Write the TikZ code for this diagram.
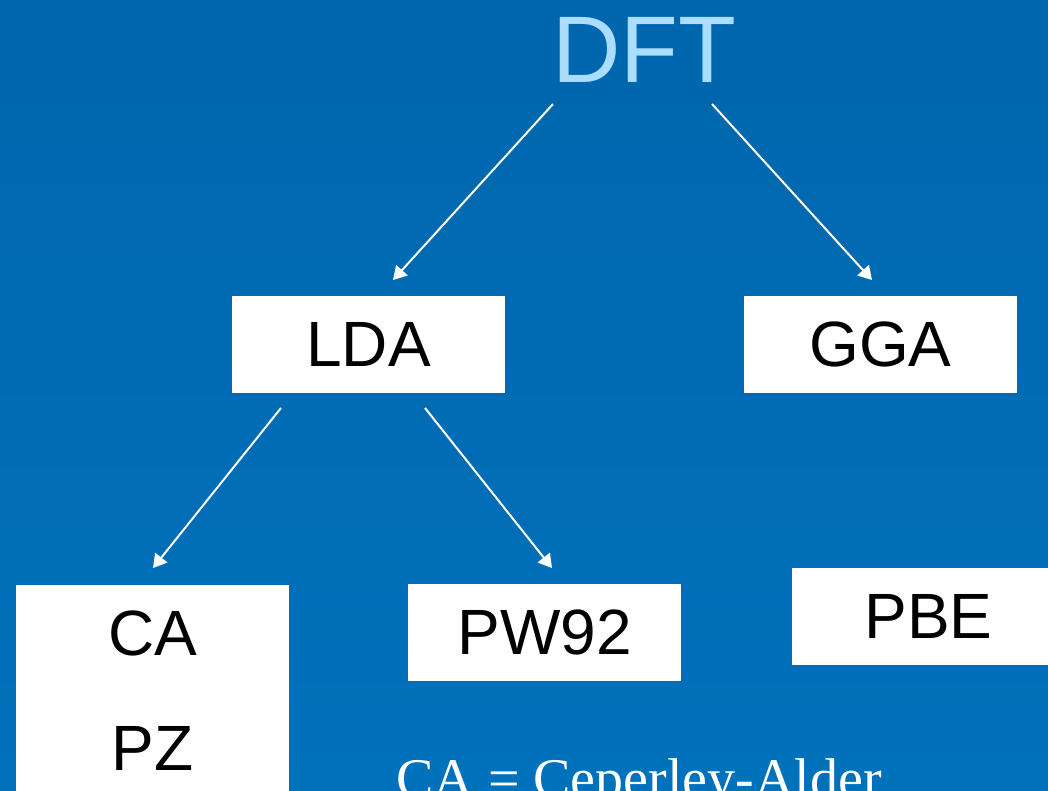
\documentclass[tikz,border=0pt]{standalone}
\usepackage{fontspec}
\setmainfont{Liberation Sans}
\newfontfamily\serifface{Liberation Serif}
\usetikzlibrary{arrows.meta}
\definecolor{bgtop}{RGB}{0,102,173}
\definecolor{bgbot}{RGB}{0,113,187}
\definecolor{dftblue}{RGB}{170,221,255}
\tikzset{
  whitebox/.style={fill=white, draw=none, minimum width=204.75pt, minimum height=72.75pt, inner sep=0pt, font=\fontsize{48}{56}\selectfont, text=black},
  boxtext/.style={inner sep=0pt, font=\fontsize{48}{56}\selectfont, text=black},
  conn/.style={draw=white, line width=1.5pt, -{Triangle[length=10pt, width=11.5pt]}}
}
\begin{document}
\begin{tikzpicture}[x=0.75pt, y=-0.75pt]
\useasboundingbox (0,0) rectangle (1048,790);
\clip (0,0) rectangle (1048,790);
\shade[top color=bgtop, bottom color=bgbot] (0,0) rectangle (1048,790);

\node[inner sep=0pt, text=dftblue, font=\fontsize{71}{80}\selectfont] (dft) at (644,50) {DFT};

\node[whitebox] (lda) at (368.5,344.5) {LDA};
\node[whitebox] (gga) at (880.5,344.5) {GGA};
\node[whitebox, minimum height=183.75pt] (capz) at (152.5,707.5) {};
\node[boxtext] (ca) at (152.5,633.5) {CA};
\node[boxtext] (pz) at (152.5,748.5) {PZ};
\node[whitebox] (pw) at (544.5,632.5) {PW92};
\node[whitebox] (pbe) at (928.5,616.5) {PBE};

\node[anchor=base west, inner sep=0pt, text=white, font=\serifface\fontsize{42}{48}\selectfont] (note) at (396,797) {CA = Ceperley-Alder};

\coordinate (dftL) at (553,104);
\coordinate (dftR) at (712,104);
\coordinate (ldaT) at (393,280);
\coordinate (ggaT) at (872,280);
\coordinate (ldaL) at (281,408);
\coordinate (ldaR) at (425,408);
\coordinate (caT) at (153,568);
\coordinate (pwT) at (552,568);

\draw[conn] (dftL) -- (ldaT);
\draw[conn] (dftR) -- (ggaT);
\draw[conn] (ldaL) -- (caT);
\draw[conn] (ldaR) -- (pwT);
\end{tikzpicture}
\end{document}
